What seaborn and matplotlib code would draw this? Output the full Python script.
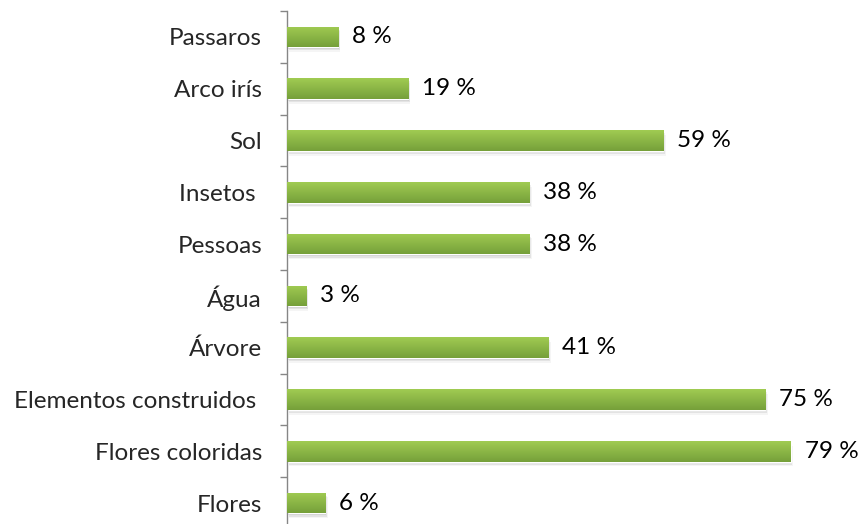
import numpy as np
import pandas as pd
import matplotlib
matplotlib.use("Agg")
import matplotlib.pyplot as plt
import seaborn as sns
from matplotlib.patches import Rectangle

categories = ["Passaros", "Arco irís", "Sol", "Insetos ", "Pessoas", "Água", "Árvore",
              "Elementos construidos ", "Flores coloridas", "Flores"]
values = [8, 19, 59, 38, 38, 3, 41, 75, 79, 6]
value_labels = ["8 %", "19 %", "59 %", "38 %", "38 %", "3 %", "41 %", "75 %", "79 %", "6 %"]

sns.set_style("white")
plt.rcParams['font.family'] = ['Lato', 'DejaVu Sans']

df = pd.DataFrame({"cat": categories, "val": values})

fig = plt.figure(figsize=(8.61, 5.24), dpi=100)
ax = fig.add_axes([287 / 861, (524 - 529) / 524, (861 - 287) / 861, 518 / 524])

sns.barplot(data=df, x="val", y="cat", order=categories, orient="h",
            color="#8DB843", width=0.4, ax=ax, saturation=1)

ax.set_xlim(0, 90)
ax.set_ylim(len(categories) - 0.5, -0.5)

# gradient + shadow on bars
top = np.array(matplotlib.colors.to_rgb("#A0CB52"))
bot = np.array(matplotlib.colors.to_rgb("#76A03A"))
grad = np.linspace(0, 1, 64)[:, None]
img = top[None, None, :] * (1 - grad[..., None]) + bot[None, None, :] * grad[..., None]
img = np.repeat(img, 2, axis=1)
for p in list(ax.patches):
    x0, y0 = p.get_x(), p.get_y()
    w, h = p.get_width(), p.get_height()
    for k, a in enumerate([0.10, 0.07, 0.04]):
        sh = Rectangle((x0 + 0.12 * (k + 1), y0 + 0.03 * (k + 1)), w, h,
                       facecolor="black", alpha=a, edgecolor="none", zorder=1)
        ax.add_patch(sh)
    p.set_zorder(2)
    im = ax.imshow(img, extent=(x0, x0 + w, y0 + h, y0), aspect="auto", zorder=3,
                   interpolation="bilinear")
    im.set_clip_path(p)

ax.set_ylim(len(categories) - 0.5, -0.5)
ax.set_xlim(0, 90)

for i, (v, lab) in enumerate(zip(values, value_labels)):
    ax.annotate(lab, (v, i), xytext=(10, 0), textcoords="offset points",
                va="center", ha="left", fontsize=17.5, color="black")

ax.set_xlabel("")
ax.set_ylabel("")
ax.set_xticks([])
for s in ["top", "right", "bottom"]:
    ax.spines[s].set_visible(False)
ax.spines["left"].set_color("#868686")
ax.spines["left"].set_linewidth(1.0)

ax.set_yticks(range(len(categories)))
ax.set_yticklabels(categories, fontsize=17.5)
ax.set_yticks(np.arange(-0.5, len(categories), 1), minor=True)
ax.tick_params(axis="y", which="major", left=True, length=0, pad=18)
ax.tick_params(axis="y", which="minor", left=True, length=5, color="#868686", width=1)

fig.savefig("out.png", dpi=100)
